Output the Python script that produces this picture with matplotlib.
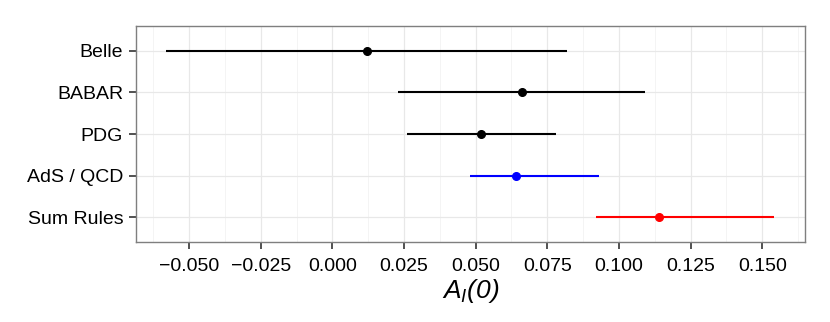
import matplotlib
matplotlib.use("Agg")
import matplotlib.pyplot as plt
from matplotlib.ticker import MultipleLocator
import numpy as np

plt.rcParams['font.family'] = ['Liberation Sans', 'DejaVu Sans']
plt.rcParams['mathtext.fontset'] = 'custom'
plt.rcParams['mathtext.it'] = 'Liberation Sans:italic'
plt.rcParams['mathtext.rm'] = 'Liberation Sans:italic'

categories = ["Belle", "BABAR", "PDG", "AdS / QCD", "Sum Rules"]
central = [0.012, 0.066, 0.052, 0.064, 0.114]
lower = [-0.058, 0.023, 0.026, 0.048, 0.092]
upper = [0.082, 0.109, 0.078, 0.093, 0.154]
colors = ["black", "black", "black", "blue", "red"]
xticks = [-0.050, -0.025, 0.000, 0.025, 0.050, 0.075, 0.100, 0.125, 0.150]

fig = plt.figure(figsize=(8.3, 3.22), dpi=100)
ax = fig.add_axes([0.1635, 0.2475, 0.8064, 0.6725])

ypos = np.arange(len(categories))
for y, c, lo, hi, col in zip(ypos, central, lower, upper, colors):
    ax.hlines(y, lo, hi, color=col, linewidth=1.5, zorder=3)
    ax.plot(c, y, 'o', color=col, markersize=5.5, zorder=4)

ax.set_xlim(-0.0686, 0.1649)
ax.set_ylim(len(categories) - 0.4, -0.6)
ax.set_yticks(ypos)
ax.set_yticklabels(categories)
ax.set_xticks(xticks)
ax.set_xticklabels([f"{t:.3f}".replace("-", "\u2212") for t in xticks])
ax.xaxis.set_minor_locator(MultipleLocator(0.0125))

ax.grid(True, which='major', color='#E8E8E8', linewidth=0.9, zorder=0)
ax.grid(True, which='minor', axis='x', color='#F3F3F3', linewidth=0.6, zorder=0)
ax.set_axisbelow(True)
ax.tick_params(axis='both', which='major', labelsize=14, length=5, width=1.2,
               color='#333333', labelcolor='black')
ax.tick_params(axis='y', which='major', pad=4)
ax.tick_params(axis='x', which='major', pad=6)
ax.tick_params(axis='both', which='minor', length=0)
for s in ax.spines.values():
    s.set_color('#7F7F7F')
    s.set_linewidth(1.0)

ax.set_xlabel(r"$A_I(0)$", fontsize=19, labelpad=2)

fig.savefig("out.png", dpi=100)
